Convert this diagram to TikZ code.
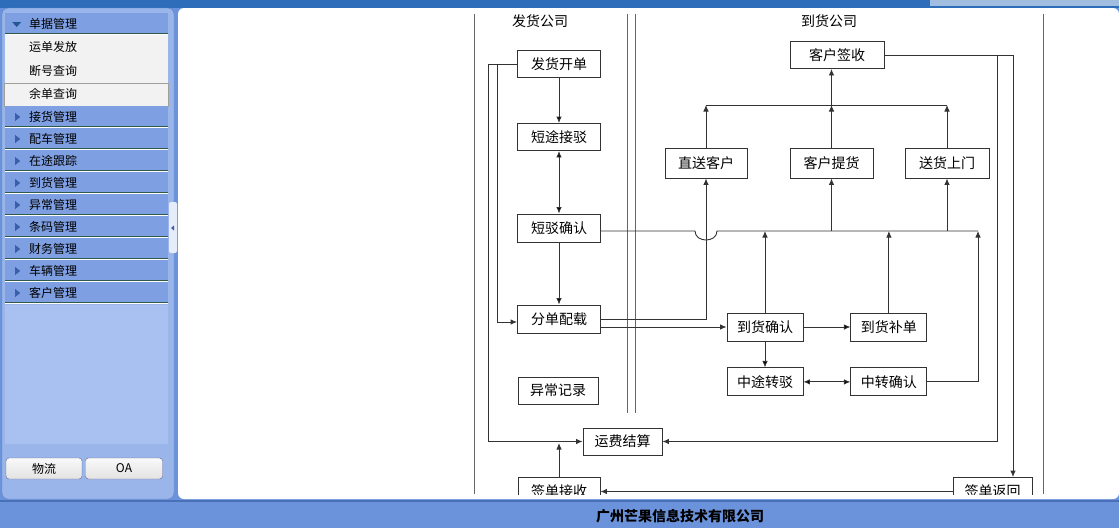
\documentclass[tikz,border=0pt]{standalone}
\usepackage{fontspec}
\setmainfont{Noto Sans CJK SC}
\usepackage{tikz}
\usetikzlibrary{arrows.meta,positioning,calc}
\definecolor{bgblue}{HTML}{6B93DB}
\definecolor{topblue}{HTML}{2E6DBA}
\definecolor{panelblue}{HTML}{9AB5EA}
\definecolor{panelline}{HTML}{5A80C8}
\definecolor{innerblue}{HTML}{A8C1F1}
\definecolor{menublue}{HTML}{7E9FE2}
\definecolor{triblue}{HTML}{3A5FA8}
\definecolor{sepgreen}{HTML}{2F5A48}
\definecolor{subgrey}{HTML}{F2F2F2}
\definecolor{flowline}{HTML}{333333}
\definecolor{footline}{HTML}{4A70B8}
\tikzset{
    >={Latex[length=6.5pt,width=5.5pt]},
    menubar/.style={anchor=west,fill=menublue,minimum width=163pt,minimum height=22pt,
      text width=115pt,inner xsep=24pt,inner ysep=0pt,align=left,font=\fontsize{12}{12}\selectfont},
    menu/.style={menubar,path picture={
      \fill[triblue] ([xshift=10pt,yshift=4pt]path picture bounding box.west) -- ++(0,-8pt) -- ++(5pt,4pt) -- cycle;
      \draw[sepgreen,line width=1pt] ([yshift=1.5pt]path picture bounding box.south west) -- ([yshift=1.5pt]path picture bounding box.south east);
      \draw[white,line width=1pt] ([yshift=0.5pt]path picture bounding box.south west) -- ([yshift=0.5pt]path picture bounding box.south east);}},
    menuopen/.style={menubar,path picture={
      \fill[topblue!80!black] ([xshift=7pt,yshift=2pt]path picture bounding box.west) -- ++(9pt,0) -- ++(-4.5pt,-5pt) -- cycle;
      \draw[sepgreen,line width=1pt] ([yshift=1.5pt]path picture bounding box.south west) -- ([yshift=1.5pt]path picture bounding box.south east);
      \draw[white,line width=1pt] ([yshift=0.5pt]path picture bounding box.south west) -- ([yshift=0.5pt]path picture bounding box.south east);}},
    sub/.style={anchor=west,inner sep=0pt,font=\fontsize{12}{12}\selectfont},
    btn/.style={draw=gray!80!blue,rounded corners=3pt,top color=white!95!gray,bottom color=gray!22,
      minimum height=21pt,inner sep=0pt,font=\fontsize{12}{12}\selectfont}
}

\begin{document}
\begin{tikzpicture}[x=1pt,y=-1pt,
flow/.style={draw=flowline,line width=0.9pt,fill=white,inner sep=0pt,minimum height=28pt,font=\fontsize{14}{14}\selectfont},
paths/.style={draw=flowline,line width=0.9pt},
lane/.style={draw=gray!80!black,line width=1pt}]
\useasboundingbox (0,0) rectangle (1119,528);
% frame
\fill[bgblue] (0,0) rectangle (1119,528);
\fill[topblue] (0,0) rectangle (1119,8);
\fill[topblue!45!white] (930,0) rectangle (1119,6);
\filldraw[fill=panelblue,draw=panelline,rounded corners=6pt] (2,8) rectangle (174,499);
\fill[white,rounded corners=6pt] (178,8) rectangle (1119,499);
\fill[footline] (0,500) rectangle (1119,502);
\node[font=\bfseries\fontsize{14}{14}\selectfont] (foot) at (680,516) {广州芒果信息技术有限公司};

% side menu
\node[menuopen] (m1) at (5,24) {单据管理};
\fill[subgrey] (5,35) rectangle (168,83);
\filldraw[fill=subgrey,draw=gray!75] (4.5,83) rectangle (168,106.5);
\node[sub] (s1) at (29,47) {运单发放};
\node[sub] (s2) at (29,70.5) {断号查询};
\node[sub] (s3) at (29,94) {余单查询};
\node[menu] (m2) at (5,117) {接货管理};
\node[menu] (m3) at (5,139) {配车管理};
\node[menu] (m4) at (5,161) {在途跟踪};
\node[menu] (m5) at (5,183) {到货管理};
\node[menu] (m6) at (5,205) {异常管理};
\node[menu] (m7) at (5,227) {条码管理};
\node[menu] (m8) at (5,249) {财务管理};
\node[menu] (m9) at (5,271) {车辆管理};
\node[menu] (m10) at (5,293) {客户管理};
\fill[innerblue] (5,305) rectangle (168,444);
\node[btn,minimum width=76pt] (b1) at (44,468.5) {物流};
\node[btn,minimum width=77pt] (b2) at (124,468.5) {OA};
\fill[white!75!panelblue,rounded corners=2pt] (169,202) rectangle (177,253);
\fill[triblue] (171,228) -- (174,225.5) -- (174,230.5) -- cycle;

% flow chart
\begin{scope}
\clip (474,8) rectangle (1119,494);
\draw[lane] (474,14) -- (474,494);
\draw[lane] (627,14) -- (627,413);
\draw[lane] (635,14) -- (635,413);
\draw[lane] (1043,14) -- (1043,494);
\node[font=\fontsize{14}{14}\selectfont] (t1) at (540,21) {发货公司};
\node[font=\fontsize{14}{14}\selectfont] (t2) at (829,21) {到货公司};

\node[flow,minimum width=83pt,minimum height=27pt] (1) at (559,64) {发货开单};
\node[flow,minimum width=83pt,minimum height=27pt] (2) at (559,137) {短途接驳};
\node[flow,minimum width=83pt] (3) at (559,228) {短驳确认};
\node[flow,minimum width=83pt] (4) at (559,319) {分单配载};
\node[flow,minimum width=80pt,minimum height=27pt] (5) at (558,390.5) {异常记录};
\node[flow,minimum width=79pt,minimum height=27pt] (6) at (622.5,441.5) {运费结算};
\node[flow,minimum width=82pt] (7) at (559,491.5) {签单接收};
\node[flow,minimum width=94pt,minimum height=27pt] (8) at (837,55) {客户签收};
\node[flow,minimum width=82pt,minimum height=30pt] (9) at (706,163) {直送客户};
\node[flow,minimum width=83pt,minimum height=30pt] (10) at (831.5,163) {客户提货};
\node[flow,minimum width=84pt,minimum height=30pt] (11) at (947,163) {送货上门};
\node[flow,minimum width=76pt] (12) at (765,327) {到货确认};
\node[flow,minimum width=76pt] (13) [right=47pt of 12] {到货补单};
\node[flow,minimum width=76pt] (14) [below=26pt of 12] {中途转驳};
\node[flow,minimum width=76pt] (15) [right=47pt of 14] {中转确认};
\node[flow,minimum width=79pt] (16) at (992.5,491.5) {签单返回};

\coordinate (ll) at (488,64);
\coordinate (lr) at (497,64);
\coordinate (bus) at (978,231);
\coordinate (top) at (706,105);
\coordinate (sl) at (997,55);
\coordinate (sr) at (1013,55);

\path[paths,->] (1) edge (2);
\path[paths,<->] (2) edge (3);
\path[paths,->] (3) edge (4);
\draw[paths] (1.west) -- (ll);
\draw[paths,->] (ll) |- (6.west);
\draw[paths,->] (lr) |- ([yshift=-3pt]4.west);
\draw[paths] (3.east |- bus) -- (695,231) .. controls (695,243) and (717,243) .. (717,231) -- (bus);
\draw[paths,->] (4.east) -| (9.south);
\draw[paths,->] (4.east |- 12.west) -- (12.west);
\path[paths,->] (12) edge (13);
\path[paths,->] (12) edge (14);
\path[paths,<->] (14) edge (15);
\draw[paths,->] (12.north) -- (12.north |- bus);
\draw[paths,->] (13.north) -- (13.north |- bus);
\draw[paths,->] (15.east) -| (bus);
\draw[paths,->] (10.south |- bus) -- (10.south);
\draw[paths,->] (11.south |- bus) -- (11.south);
\draw[paths,->] (9.north) -- (9.north |- top);
\draw[paths,->] (10.north) -- (10.north |- top);
\draw[paths,->] (11.north) -- (11.north |- top);
\draw[paths] (9.north |- top) -- (11.north |- top);
\draw[paths,->] (10.north |- top) -- (10.north |- 8.south);
\draw[paths] (8.east) -- (sr);
\draw[paths,->] (sr) -- (sr |- 16.north);
\draw[paths,->] (sl) |- (6.east);
\draw[paths,->] (16.west) -- (7.east);
\draw[paths,->] (7.north) -- ++(0,-34);
\end{scope}
\end{tikzpicture}
\end{document}
